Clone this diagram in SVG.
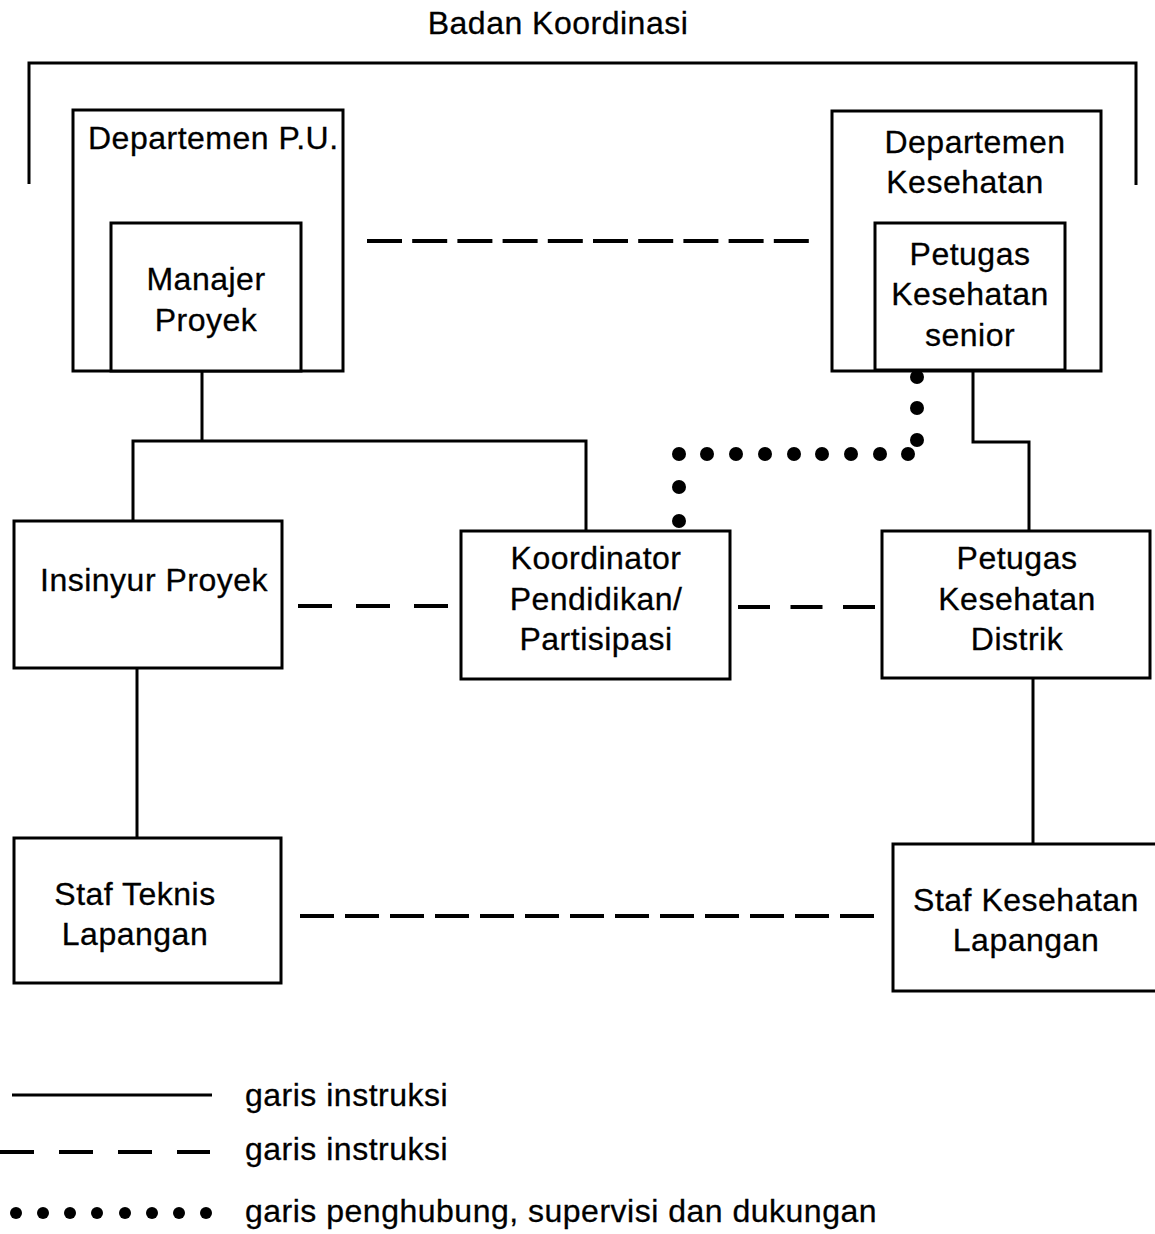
<svg xmlns="http://www.w3.org/2000/svg" width="1155" height="1234" viewBox="0 0 1155 1234">
  <style>
    .box { fill: #fff; stroke: #000; stroke-width: 3; }
    .line { fill: none; stroke: #000; stroke-width: 3; }
    .dash { fill: none; stroke: #000; stroke-width: 4; }
    .dot { fill: #000; }
    text { font-family: "Liberation Sans", Arial, Helvetica, sans-serif; font-size: 32px; letter-spacing: 0.5px; fill: #000; stroke: #000; stroke-width: 0.3px; }
    .c { text-anchor: middle; }
  </style>
  <rect width="1155" height="1234" fill="#fff"/>

  <!-- Coordination body bracket -->
  <g id="badan-koordinasi">
    <text class="c" x="558" y="34">Badan Koordinasi</text>
    <path class="line" d="M29,184 V63 H1136 V185"/>
  </g>

  <!-- Connectors -->
  <g id="connectors">
    <!-- solid instruction lines -->
    <path class="line" d="M202,371 V441 M133,521 V441 H586 V531"/>
    <path class="line" d="M973,371 V442 H1029 V531"/>
    <path class="line" d="M137,668 V838"/>
    <path class="line" d="M1033,678 V844"/>
    <!-- dashed lines -->
    <path class="dash" d="M367,241 H809" stroke-dasharray="35 10.2"/>
    <path class="dash" d="M298,606 H448" stroke-dasharray="34 24"/>
    <path class="dash" d="M738,607 H875" stroke-dasharray="32 20.5"/>
    <path class="dash" d="M300,916 H874" stroke-dasharray="34 11"/>
    <!-- dotted liaison / supervision line -->
    <g id="dotted-link" class="dot">
      <circle cx="917" cy="377" r="7"/>
      <circle cx="917" cy="408" r="7"/>
      <circle cx="917" cy="440" r="7"/>
      <circle cx="908" cy="454" r="7"/>
      <circle cx="880" cy="454" r="7"/>
      <circle cx="851" cy="454" r="7"/>
      <circle cx="822" cy="454" r="7"/>
      <circle cx="794" cy="454" r="7"/>
      <circle cx="765" cy="454" r="7"/>
      <circle cx="736" cy="454" r="7"/>
      <circle cx="707" cy="454" r="7"/>
      <circle cx="679" cy="454" r="7"/>
      <circle cx="679" cy="487" r="7"/>
      <circle cx="679" cy="521" r="7"/>
    </g>
  </g>

  <!-- Nodes -->
  <g id="departemen-pu">
    <rect class="box" x="73" y="110" width="270" height="261"/>
    <text x="88" y="149">Departemen P.U.</text>
  </g>
  <g id="manajer-proyek">
    <rect class="box" x="111" y="223" width="190" height="148"/>
    <text class="c" x="206" y="290">Manajer</text>
    <text class="c" x="206" y="331">Proyek</text>
  </g>

  <g id="departemen-kesehatan">
    <rect class="box" x="832" y="111" width="269" height="260"/>
    <text class="c" x="975" y="153">Departemen</text>
    <text class="c" x="965" y="193">Kesehatan</text>
  </g>
  <g id="petugas-kesehatan-senior">
    <rect class="box" x="875" y="223" width="190" height="147"/>
    <text class="c" x="970" y="265">Petugas</text>
    <text class="c" x="970" y="305">Kesehatan</text>
    <text class="c" x="970" y="346">senior</text>
  </g>

  <g id="insinyur-proyek">
    <rect class="box" x="14" y="521" width="268" height="147"/>
    <text x="40" y="591">Insinyur Proyek</text>
  </g>

  <g id="koordinator">
    <rect class="box" x="461" y="531" width="269" height="148"/>
    <text class="c" x="596" y="569">Koordinator</text>
    <text class="c" x="596" y="610">Pendidikan/</text>
    <text class="c" x="596" y="650">Partisipasi</text>
  </g>

  <g id="petugas-kesehatan-distrik">
    <rect class="box" x="882" y="531" width="268" height="147"/>
    <text class="c" x="1017" y="569">Petugas</text>
    <text class="c" x="1017" y="610">Kesehatan</text>
    <text class="c" x="1017" y="650">Distrik</text>
  </g>

  <g id="staf-teknis-lapangan">
    <rect class="box" x="14" y="838" width="267" height="145"/>
    <text class="c" x="135" y="905">Staf Teknis</text>
    <text class="c" x="135" y="945">Lapangan</text>
  </g>

  <g id="staf-kesehatan-lapangan">
    <rect class="box" x="893" y="844" width="270" height="147"/>
    <text class="c" x="1026" y="911">Staf Kesehatan</text>
    <text class="c" x="1026" y="951">Lapangan</text>
  </g>

  <!-- Legend -->
  <g id="legend">
    <path class="line" d="M12,1095 H212"/>
    <text x="245" y="1106">garis instruksi</text>
    <path class="dash" d="M0,1152 H210" stroke-dasharray="34 25"/>
    <text x="245" y="1160">garis instruksi</text>
    <g class="dot">
      <circle cx="16" cy="1213" r="6"/>
      <circle cx="43" cy="1213" r="6"/>
      <circle cx="70" cy="1213" r="6"/>
      <circle cx="97" cy="1213" r="6"/>
      <circle cx="125" cy="1213" r="6"/>
      <circle cx="152" cy="1213" r="6"/>
      <circle cx="179" cy="1213" r="6"/>
      <circle cx="206" cy="1213" r="6"/>
    </g>
    <text x="245" y="1222">garis penghubung, supervisi dan dukungan</text>
  </g>
</svg>
